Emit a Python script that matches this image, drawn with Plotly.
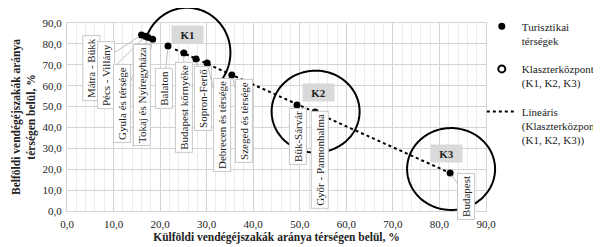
import numpy as np
import plotly.graph_objects as go

# ---- data ----
regions = ["Mátra - Bükk", "Pécs - Villány", "Gyula és térsége", "Tokaj és Nyíregyháza",
           "Balaton", "Budapest környéke", "Sopron-Fertő", "Debrecen és térsége",
           "Szeged és térsége", "Bük-Sárvár", "Győr - Pannonhalma", "Budapest"]
foreign_share = [16.0, 16.8, 17.4, 18.4, 21.7, 25.1, 27.7, 30.1, 35.4, 49.4, 53.3, 82.3]
domestic_share = [84.3, 83.6, 83.0, 82.2, 79.0, 75.6, 72.8, 70.8, 65.1, 50.7, 47.4, 18.2]

clusters = ["K1", "K2", "K3"]
cluster_x = [23.2, 51.4, 82.3]
cluster_y = [77.4, 49.1, 18.2]

x_ticks = [0, 10, 20, 30, 40, 50, 60, 70, 80, 90]
y_ticks = [0, 10, 20, 30, 40, 50, 60, 70, 80, 90]

# ---- layout helpers (styling / placement only) ----
label_pos = [(5.2, 68.5), (8.4, 65.1), (11.8, 51.7), (16.1, 55.5), (20.8, 58.9),
             (25.1, 49.8), (29.2, 54.1), (33.3, 41.2), (38.0, 43.1), (49.6, 35.9),
             (54.3, 24.4), (85.7, 7.2)]
k_box_pos = [(25.8, 84.7), (54.0, 56.5), (81.6, 27.4)]
# circle outlines: centre x, centre y, radius x, radius y (data units), arc start/end angle (deg)
circles = [(25.8, 75.8, 9.3, 21.5, 156, -36),
           (53.4, 47.6, 9.45, 19.6, 0, 360),
           (82.5, 20.1, 9.45, 19.6, 0, 360)]

XR = [0, 90]
YR = [0, 90]

def to_paper(xv, yv):
    return ((np.asarray(xv) - XR[0]) / (XR[1] - XR[0]),
            (np.asarray(yv) - YR[0]) / (YR[1] - YR[0]))

FONT = "Liberation Serif"
PAGE_MARGIN = 8  # default browser body margin around the plot div

fig = go.Figure()

coef = np.polyfit(cluster_x, cluster_y, 1)
tx = np.array([min(cluster_x), max(cluster_x)])
fig.add_trace(go.Scatter(
    x=[None], y=[None], mode="markers", name="Turisztikai<br>térségek",
    marker=dict(color="black", size=7), legendgroup="a", showlegend=True))
fig.add_trace(go.Scatter(
    x=[None], y=[None], mode="markers", name="Klaszterközpont<br>(K1, K2, K3)",
    marker=dict(color="white", size=7, line=dict(color="black", width=2)),
    legendgroup="b"))
fig.add_trace(go.Scatter(
    x=tx, y=np.polyval(coef, tx), mode="lines",
    name="Lineáris<br>(Klaszterközpont<br>(K1, K2, K3))",
    line=dict(color="black", width=2, dash="dot"), legendgroup="c"))
fig.add_trace(go.Scatter(
    x=foreign_share, y=domestic_share, mode="markers", showlegend=False,
    marker=dict(color="black", size=7), hovertext=regions))

for cx, cy, rx, ry, a0, a1 in circles:
    t = np.radians(np.linspace(a0, a1, 120))
    px, py = to_paper(cx + rx * np.cos(t), cy + ry * np.sin(t))
    path = "M " + " L ".join(f"{a:.5f},{b:.5f}" for a, b in zip(px, py))
    fig.add_shape(type="path", path=path, xref="paper", yref="paper",
                  line=dict(color="black", width=2), layer="above")

ann = []
for name, xv, yv, (lx, ly) in zip(regions, foreign_share, domestic_share, label_pos):
    ann.append(dict(x=xv, y=yv, ax=lx, ay=ly, axref="x", ayref="y", xref="x", yref="y",
                    text=name, textangle=-90, showarrow=True, arrowhead=0,
                    arrowcolor="#bfbfbf", arrowwidth=1, standoff=3,
                    bgcolor="white", bordercolor="#c8c8c8", borderwidth=1, borderpad=2,
                    font=dict(family=FONT, size=11, color="#222")))
for k, (bx, by) in zip(clusters, k_box_pos):
    ann.append(dict(x=bx, y=by, xref="x", yref="y", text=f"<b>{k}</b>", showarrow=False,
                    bgcolor="#d9d9d9", width=29, height=15, borderpad=1,
                    font=dict(family=FONT, size=11, color="#222")))

fig.update_layout(
    width=601 - PAGE_MARGIN, height=247 - PAGE_MARGIN,
    margin=dict(l=59, r=115, t=15, b=36, autoexpand=False),
    paper_bgcolor="white", plot_bgcolor="white",
    separators=", ",
    font=dict(family=FONT, size=11, color="#222"),
    showlegend=True,
    legend=dict(x=0.99, xanchor="left", y=1.055, yanchor="top", valign="top",
                font=dict(family=FONT, size=11, color="#222"),
                tracegroupgap=11, itemwidth=30, bgcolor="rgba(0,0,0,0)",
                maxheight=220),
    annotations=ann,
)
fig.update_xaxes(range=XR, tickvals=x_ticks, tickformat=".1f", ticks="",
                 showgrid=True, gridcolor="#d4d4d4", gridwidth=1,
                 minor=dict(dtick=2, showgrid=True, gridcolor="#ebebeb"),
                 showline=True, linecolor="#d4d4d4", mirror=True, zeroline=False,
                 tickfont=dict(size=11), automargin=False, ticklabelstandoff=3,
                 title=dict(text="<b>Külföldi vendégéjszakák aránya térségen belül, %</b>",
                            font=dict(size=11.5), standoff=3))
fig.update_yaxes(range=YR, tickvals=y_ticks, tickformat=".1f", ticks="",
                 showgrid=True, gridcolor="#d4d4d4", gridwidth=1,
                 showline=True, linecolor="#d4d4d4", mirror=True, zeroline=False,
                 tickfont=dict(size=11), automargin=False, ticklabelstandoff=2,
                 title=dict(text="<b>Belföldi vendégéjszakák aránya<br>térségen belül, %</b>",
                            font=dict(size=11.5), standoff=4))

fig.write_html("out.html")
